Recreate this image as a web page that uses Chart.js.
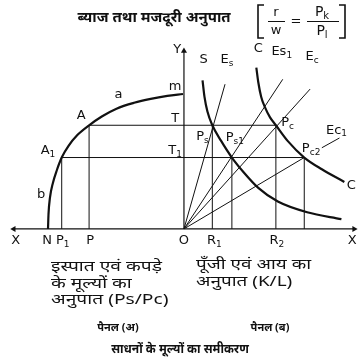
<!DOCTYPE html>
<html lang="hi">
<head>
<meta charset="UTF-8">
<title>साधनों के मूल्यों का समीकरण</title>
<script src="https://cdn.jsdelivr.net/npm/chart.js@4"></script>
<style>
  html, body { margin: 0; padding: 0; background: #fff; }
  #wrap { width: 364px; height: 362px; }
</style>
</head>
<body>
<div id="wrap"><canvas id="c" width="364" height="362"></canvas></div>
<script>
// point O is (0,0); panel (a) lies on the negative x side
const curveAB = [[-139,0],[-138.5,15],[-137,32],[-134,47],[-130,60],[-125,73],[-118,85],[-109,96],[-97,106],[-84,115],[-69,123],[-51,129],[-34,133],[-17,136],[-1,138]];
const curveS = [[19,152],[21,135],[24,120],[29,106],[38,90],[49,73],[61,58],[76,42],[96,28],[126,17],[161,10]];
const curveC = [[74,165],[76,150],[79,135],[83,124],[88,114],[94,106],[106,90],[123,73],[141,61],[164,48]];
const rayEnds = [[42,148],[101,153],[129,143],[123,73]];   // Es, Es1, Ec, Ec1
const levelT = 106, levelT1 = 73;
const xT = [-97, 29, 94];      // P, R1, R2
const xT1 = [-125, 49, 123];   // P1, Ps1, Pc2
const leaderEc1 = [[141,83],[159,93]];
const axisX = [-174, 174], axisYTop = 182;

const pts = arr => arr.map(p => ({x: p[0], y: p[1]}));
const ink = '#111';

const ds = [];
function line(data, w, extra) {
  ds.push(Object.assign({data: pts(data), showLine: true, borderColor: ink, borderWidth: w,
    pointRadius: 0, fill: false}, extra || {}));
}
// axes
line([[axisX[0],0],[axisX[1],0]], 1.2);
line([[0,0],[0,axisYTop]], 1.2);
// curves
line(curveAB, 2.2, {cubicInterpolationMode: 'monotone'});
line(curveS, 2.2, {cubicInterpolationMode: 'monotone'});
line(curveC, 2.2, {cubicInterpolationMode: 'monotone'});
// rays from O
rayEnds.forEach(e => line([[0,0], e], 1));
line(leaderEc1, 1);
// horizontals
line([[xT[0], levelT], [xT[2], levelT]], 1);
line([[xT1[0], levelT1], [xT1[2], levelT1]], 1);
// verticals
xT.forEach(x => line([[x,0],[x,levelT]], 1));
xT1.forEach(x => line([[x,0],[x,levelT1]], 1));
// arrow heads
ds.push({data: pts([[axisX[1],0],[axisX[0],0],[0,axisYTop]]), showLine: false,
  pointStyle: 'triangle', pointRadius: 3.5, pointRotation: [90,-90,0],
  backgroundColor: ink, borderColor: ink, borderWidth: 0});

const pointLabels = [
  ['Y','', -7,183], ['m','', -9,145], ['T','', -9,113], ['T','1', -9,80],
  ['A','', -105,116], ['A','1', -139,80], ['a','', -67,137], ['b','', -146,35],
  ['S','', 20,173], ['E','s', 44,173], ['C','', 76,184], ['Es','1', 100,181],
  ['E','c', 131,176], ['Ec','1', 156,101], ['C','', 171,44],
  ['P','s', 19,94], ['P','s1', 52,93], ['P','c', 106,109], ['P','c2', 130,82],
  ['X','', -172,-12], ['N','', -140,-12], ['P','1', -124,-12], ['P','', -96,-12],
  ['O','', 0,-12], ['R','1', 31,-12], ['R','2', 95,-12], ['X','', 172,-12]
];

const latin = '"DejaVu Sans", sans-serif';
const deva = '"Noto Sans", "Noto Sans Devanagari", "Lohit Devanagari", sans-serif';

function labelText(ctx, t, sub, x, y, size) {
  size = size || 13;
  const ss = Math.round(size * 0.72);
  ctx.font = size + 'px ' + latin;
  ctx.textBaseline = 'middle';
  const w1 = ctx.measureText(t).width;
  ctx.font = ss + 'px ' + latin;
  const w2 = sub ? ctx.measureText(sub).width : 0;
  let sx = x - (w1 + w2) / 2;
  ctx.font = size + 'px ' + latin;
  ctx.textAlign = 'left';
  ctx.fillText(t, sx, y);
  if (sub) { ctx.font = ss + 'px ' + latin; ctx.fillText(sub, sx + w1, y + 4); }
}

// wide caption text, stretched sideways like the printed one
function wideText(ctx, s, x, y, k) {
  ctx.save();
  ctx.translate(x, y);
  ctx.scale(k, 1);
  ctx.fillText(s, 0, 0);
  ctx.restore();
}

const textPlugin = {
  id: 'texts',
  afterDatasetsDraw(chart) {
    const ctx = chart.ctx, sx = chart.scales.x, sy = chart.scales.y;
    ctx.save();
    ctx.fillStyle = ink; ctx.strokeStyle = ink;
    pointLabels.forEach(l => labelText(ctx, l[0], l[1], sx.getPixelForValue(l[2]), sy.getPixelForValue(l[3])));

    // title
    ctx.textBaseline = 'middle';
    ctx.textAlign = 'center';
    ctx.font = 'bold 15px ' + deva;
    ctx.fillText('ब्याज तथा मजदूरी अनुपात', 154, 18);
    // bracketed fraction
    ctx.lineWidth = 1.6;
    ctx.beginPath();
    ctx.moveTo(264, 5); ctx.lineTo(258, 5); ctx.lineTo(258, 38); ctx.lineTo(264, 38);
    ctx.moveTo(339, 5); ctx.lineTo(345, 5); ctx.lineTo(345, 38); ctx.lineTo(339, 38);
    ctx.stroke();
    ctx.lineWidth = 1.2;
    ctx.beginPath();
    ctx.moveTo(268, 21.5); ctx.lineTo(285, 21.5);
    ctx.moveTo(307, 21.5); ctx.lineTo(339, 21.5);
    ctx.stroke();
    ctx.font = '13px ' + latin;
    ctx.fillText('r', 276, 13);
    ctx.fillText('w', 276, 31);
    ctx.fillText('=', 296, 22);
    labelText(ctx, 'P', 'k', 322, 12, 14);
    labelText(ctx, 'P', 'l', 322, 31, 14);

    // captions
    ctx.textAlign = 'left';
    ctx.font = '15px ' + deva;
    ['इस्पात एवं कपड़े', 'के मूल्यों का', 'अनुपात (Ps/Pc)'].forEach((s, i) => wideText(ctx, s, 51, 267 + i * 16.5, 1.28));
    ['पूँजी एवं आय का', 'अनुपात (K/L)'].forEach((s, i) => wideText(ctx, s, 196, 265 + i * 17, 1.26));
    ctx.textAlign = 'center';
    ctx.font = 'bold 11px ' + deva;
    ctx.fillText('पैनल (अ)', 118, 328);
    ctx.fillText('पैनल (ब)', 270, 328);
    ctx.font = 'bold 12px ' + deva;
    ctx.fillText('साधनों के मूल्यों का समीकरण', 180, 350);
    ctx.restore();
  }
};

new Chart(document.getElementById('c'), {
  type: 'scatter',
  data: {datasets: ds},
  options: {
    responsive: false,
    animation: false,
    devicePixelRatio: 1,
    layout: {padding: 0},
    scales: {
      x: {type: 'linear', min: -184, max: 180, display: false},
      y: {type: 'linear', min: -132, max: 230, display: false}
    },
    plugins: {legend: {display: false}, tooltip: {enabled: false}}
  },
  plugins: [textPlugin]
});
</script>
</body>
</html>
